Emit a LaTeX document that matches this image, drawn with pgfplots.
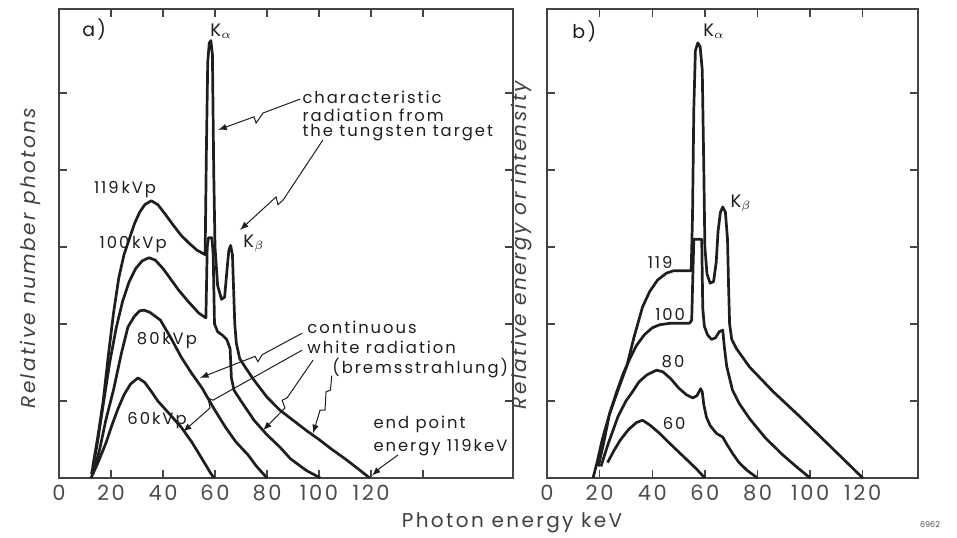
\documentclass[border=0pt]{standalone}
\usepackage{pgfplots}
\pgfplotsset{compat=1.18}
\usepackage{fontspec}
\setmainfont{Poppins}
\newfontfamily\annot{Poppins}[LetterSpace=12]

\definecolor{ink}{HTML}{1E1E1E}
\definecolor{frame}{HTML}{444444}

\pgfplotsset{
  spec/.style={
    scale only axis,
    height=234.5pt,
    ymin=0, ymax=6.09,
    axis line style={frame, line width=0.9pt},
    tick style={frame, line width=0.7pt},
    major tick length=4pt,
    tick align=inside,
    xtick pos=both, ytick pos=both,
    xticklabel pos=lower,
    ytick={1,2,3,4,5}, yticklabels={},
    tick label style={font=\annot\fontsize{10.5}{12}\selectfont, text=black!70},
    /pgf/number format/assume math mode=true,
    clip=false,
  },
  curve/.style={ink, line width=1.35pt, line join=round, no markers},
}
\tikzset{
  lbl/.style={font=\annot\fontsize{8.2}{9}\selectfont, text=ink, inner sep=0pt},
  ptr/.style={ink, line width=0.5pt, -latex},
}

\begin{document}
\begin{tikzpicture}
\useasboundingbox (0,0) rectangle (478.5pt,268.5pt);

% ---------------- a) number of photons
\begin{axis}[spec, at={(29.5pt,29.5pt)}, anchor=south west,
  width=227pt, xmin=0, xmax=174.6,
  xtick={0,20,...,140}, xticklabels={0,20,40,60,80,100,120,{}}]

\addplot[curve] coordinates {
(13,0.15) (15,0.55) (17,1.0) (19,1.6) (21,2.15) (23,2.6) (25,2.9) (27,3.1)
(29,3.3) (31,3.45) (33,3.55) (35.5,3.6) (38,3.55) (41,3.42) (44,3.28)
(47,3.15) (50,3.05) (53,2.96) (56.2,2.9) (56.7,4.3) (57.2,5.4) (57.8,5.65)
(58.4,5.68) (59,5.5) (59.5,4.0) (60,3.0) (61,2.5) (62.5,2.32) (63.7,2.35)
(64.6,2.7) (65.3,2.95) (66,3.02) (66.7,2.9) (67.2,2.4) (67.6,2.0)
(68.2,1.75) (69.5,1.55) (72,1.42) (75,1.27) (80,1.05) (85,0.88) (90,0.75)
(95,0.62) (100,0.5) (105,0.37) (110,0.25) (115,0.12) (119.5,0)
};
\addplot[curve] coordinates {
(12.5,0.05) (14.5,0.4) (17,0.95) (19.5,1.5) (22,1.95) (24.5,2.3) (27,2.55)
(29.5,2.72) (32,2.82) (34.6,2.86) (37,2.83) (40,2.72) (43,2.58) (46,2.44)
(50,2.28) (53.8,2.14) (56.5,2.08) (57,3.0) (57.5,3.12) (58.8,3.12)
(59.3,2.9) (59.8,2.0) (61,1.9) (63,1.85) (64.5,1.8) (65.8,1.68) (66.3,1.3)
(67.3,1.14) (70,1.0) (75,0.75) (80,0.56) (85,0.4) (89,0.25) (95,0.1)
(100.5,0)
};
\addplot[curve] coordinates {
(13,0.05) (15.5,0.35) (18,0.75) (21,1.15) (24,1.62) (26.5,1.96) (29,2.1)
(31,2.17) (32.7,2.18) (35,2.15) (39,2.05) (43,1.82) (47,1.57) (51,1.36)
(55,1.17) (59.6,0.9) (64,0.66) (68,0.47) (72.7,0.3) (76,0.15) (80,0)
};
\addplot[curve] coordinates {
(12.3,0) (15,0.2) (18,0.45) (20.5,0.7) (22.7,0.9) (25,1.08) (27.5,1.22)
(30.4,1.3) (33,1.24) (36,1.1) (38,1.0) (42,0.85) (47,0.66) (51,0.47)
(55,0.25) (58,0.08) (59.6,0)
};

% labels
\node[lbl, anchor=west, font=\annot\fontsize{9.5}{10}\selectfont] at (8.8,5.82) {a)};
\node[lbl, anchor=west, font=\annot\fontsize{9}{10}\selectfont] at (58.1,5.8) {K$_\alpha$};
\node[lbl, anchor=west, font=\annot\fontsize{9}{10}\selectfont] at (70.8,3.05) {K$_\beta$};
\node[lbl] at (25.4,3.74) {119\,kVp};
\node[lbl] at (28.5,3.03) {100\,kVp};
\node[lbl] at (41.5,1.79) {80\,kVp};
\node[lbl] at (37.7,0.75) {60kVp};
\node[lbl, anchor=west] at (93.5,4.94) {characteristic};
\node[lbl, anchor=west] at (93.5,4.71) {radiation from};
\node[lbl, anchor=west] at (93.5,4.48) {the tungsten target};
\node[lbl, anchor=west] at (95.4,1.95) {continuous};
\node[lbl, anchor=west] at (95.4,1.70) {white radiation};
\node[lbl, anchor=west] at (105,1.43) {(bremsstrahlung)};
\node[lbl, anchor=west] at (120.8,0.69) {end point};
\node[lbl, anchor=west] at (120.8,0.40) {energy 119keV};

% pointers
\draw[ptr] (92.7,4.92) -- (78.5,4.74) -- (75.8,4.61) -- (75,4.69) -- (61.2,4.52);
\draw[ptr] (101.5,4.39) -- (86.2,3.61) -- (84.2,3.55) -- (83.5,3.65) -- (69.6,3.22);
\draw[ptr] (93.5,1.88) -- (78.1,1.6) -- (76.5,1.51) -- (75.4,1.58) -- (54.2,1.3);
\draw[ptr] (93.5,1.66) -- (59.2,1.01) -- (57.3,1.04) -- (58.1,0.91) -- (47.7,0.6);
\draw[ptr] (97.7,1.53) -- (87.7,1.04) -- (85.8,1.01) -- (86.9,0.91) -- (78.5,0.62);
\draw[ptr] (104.9,1.33) -- (104.4,1.14) -- (102.7,1.12) -- (102.3,0.88) -- (100.4,0.88) -- (97.7,0.58);
\draw[ptr] (130.4,0.3) -- (123.5,0.13) -- (120.4,0.03);
\end{axis}

% ---------------- b) energy
\begin{axis}[spec, at={(273.5pt,29.5pt)}, anchor=south west,
  width=185.5pt, xmin=0, xmax=141,
  xtick={0,20,...,120}]

\addplot[curve] coordinates {
(17.5,0) (19,0.2) (21,0.5) (23.5,0.8) (25.5,1.0) (27.6,1.2) (30.3,1.45)
(33,1.82) (36.3,2.22) (39,2.42) (42,2.57) (45.4,2.66) (48,2.69) (54.8,2.69)
(55.3,3.4) (55.8,4.8) (56.4,5.55) (57.3,5.65) (58.2,5.6) (59,5.3) (59.6,4.0)
(60,3.0) (60.8,2.65) (62,2.53) (63.3,2.55) (64.3,2.8) (65,3.2) (65.9,3.45)
(66.8,3.52) (67.8,3.45) (68.6,3.1) (69,2.5) (69.4,2.0) (70.2,1.8) (72,1.68)
(77,1.44) (86,1.12) (96,0.8) (108,0.4) (120,0)
};
\addplot[curve] coordinates {
(19.5,0.15) (21.5,0.45) (23.8,0.84) (26.5,1.12) (29,1.36) (31.5,1.55)
(34,1.72) (37,1.86) (40,1.95) (42.8,1.99) (47,2.01) (54.2,2.01) (55,2.05)
(55.4,2.6) (55.8,3.1) (58.8,3.1) (59.2,2.2) (59.8,1.97) (61,1.86)
(62.5,1.8) (64,1.82) (65.5,1.9) (66.8,1.92) (67.4,1.7) (68.3,1.45)
(69.5,1.28) (70.5,1.14) (73,0.97) (77,0.77) (83,0.52) (89.6,0.3)
(95,0.14) (100,0)
};
\addplot[curve] coordinates {
(20.5,0.15) (23,0.42) (27,0.8) (30,1.0) (32.5,1.12) (35,1.25) (38,1.34)
(41.6,1.4) (44,1.38) (47,1.29) (50,1.17) (53,1.08) (55.4,1.04) (57,1.07)
(58.4,1.16) (59,1.12) (59.6,0.95) (60.6,0.79) (62,0.68) (64.4,0.58)
(66.8,0.53) (68.5,0.43) (70.5,0.32) (73,0.2) (76,0.1) (80,0)
};
\addplot[curve] coordinates {
(23,0.2) (25.5,0.36) (28,0.5) (31,0.63) (34,0.72) (36.3,0.75) (39,0.69)
(42.8,0.58) (46,0.47) (50,0.34) (54,0.21) (57,0.11) (60,0)
};

\node[lbl, anchor=west, font=\annot\fontsize{9.5}{10}\selectfont] at (9.5,5.8) {b)};
\node[lbl, anchor=west, font=\annot\fontsize{9}{10}\selectfont] at (59.3,5.8) {K$_\alpha$};
\node[lbl, anchor=west, font=\annot\fontsize{9}{10}\selectfont] at (69.6,3.57) {K$_\beta$};
\node[lbl] at (43,2.8) {119};
\node[lbl] at (46.8,2.12) {100};
\node[lbl] at (47.9,1.51) {80};
\node[lbl] at (48.3,0.71) {60};
\end{axis}

% axis titles
\node[rotate=90, font=\annot\itshape\fontsize{10}{12}\selectfont, text=black!75]
  at (15pt,139.5pt) {Relative number photons};
\node[rotate=90, font=\annot\itshape\fontsize{10}{12}\selectfont, text=black!75]
  at (261pt,146pt) {Relative energy or intensity};
\node[font=\annot\fontsize{10}{12}\selectfont, text=black!75]
  at (256pt,7pt) {Photon energy keV};
\node[font=\fontsize{4}{5}\selectfont, text=black!70] at (465pt,6pt) {6962};
\end{tikzpicture}
\end{document}
